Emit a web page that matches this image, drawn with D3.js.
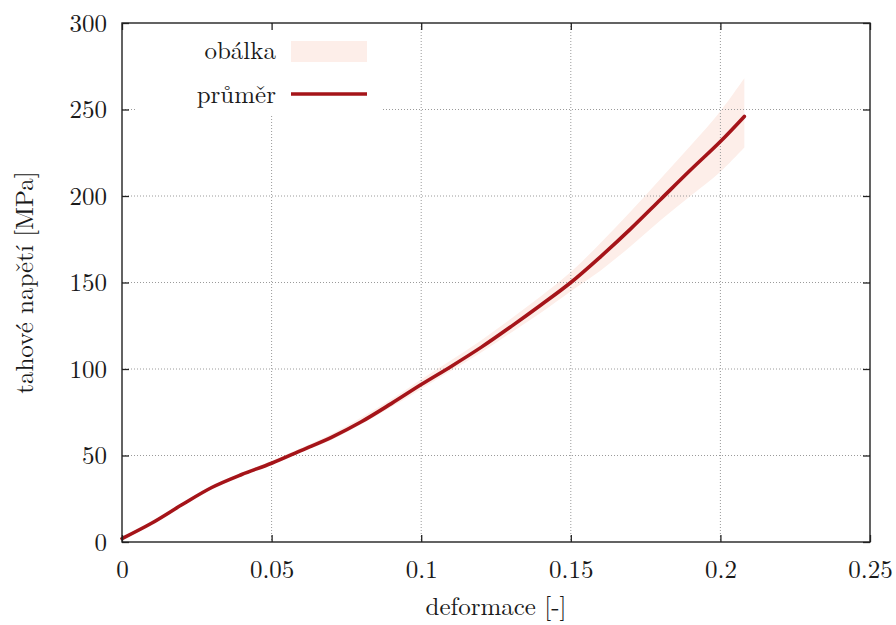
<!DOCTYPE html>
<html>
<head>
<meta charset="utf-8">
<script src="https://cdn.jsdelivr.net/npm/d3@7"></script>
<style>
  body { margin: 0; background: #fff; }
</style>
</head>
<body>
<svg id="chart" width="896" height="625"></svg>
<script>

// strain values (x) and stress values (MPa)
let strain = [0, 0.01, 0.02, 0.03, 0.04, 0.05, 0.06, 0.07, 0.08, 0.09, 0.10,
    0.11, 0.12, 0.13, 0.14, 0.15, 0.16, 0.17, 0.18, 0.19, 0.20, 0.208];
let meanStress = [2, 11, 21.5, 31.5, 39, 45.5, 53, 60.5, 69.5, 80, 91,
    101.5, 112.5, 124.5, 137, 150, 165, 181, 198, 215, 231.5, 246];
let lowStress = [2, 10.5, 21, 31, 38.5, 44.5, 52, 59, 68, 78, 88.5,
    99, 109.5, 121, 132.5, 145, 157, 171, 186, 200, 214, 228];
let highStress = [2.5, 11.5, 22, 32, 40, 47, 54.5, 62.5, 72, 82.5, 94,
    105, 116.5, 129, 142, 156, 173, 191, 210, 229, 249, 268];

let xTicks = [0, 0.05, 0.1, 0.15, 0.2, 0.25];
let yTicks = [0, 50, 100, 150, 200, 250, 300];
let legendLabels = ['obálka', 'průměr'];

let Plot = { Left: 122, Right: 870, Top: 23, Bottom: 542 };
let Colors = { Line: '#a51419', Band: '#fdeee9', Grid: '#9a9a9a', Text: '#1a1a1a' };
let Font = '"Latin Modern Roman", "Liberation Serif", serif';
let FontSize = 25;

let svg = d3.select('#chart');

let x = d3.scaleLinear().domain([0, 0.25]).range([Plot.Left, Plot.Right]);
let y = d3.scaleLinear().domain([0, 300]).range([Plot.Bottom, Plot.Top]);

let rows = strain.map((s, i) => ({
    s: s, mean: meanStress[i], lo: lowStress[i], hi: highStress[i]
}));

// envelope
let area = d3.area()
    .x(d => x(d.s))
    .y0(d => y(d.lo))
    .y1(d => y(d.hi))
    .curve(d3.curveCatmullRom);

svg.append('path')
    .datum(rows)
    .attr('d', area)
    .attr('fill', Colors.Band);

// grid
let grid = svg.append('g');
grid.selectAll('line.gx')
    .data(xTicks.slice(1, -1))
    .join('line')
    .attr('x1', d => x(d)).attr('x2', d => x(d))
    .attr('y1', Plot.Top).attr('y2', Plot.Bottom)
    .attr('stroke', Colors.Grid).attr('stroke-width', 1)
    .attr('stroke-dasharray', '1,2');
grid.selectAll('line.gy')
    .data(yTicks.slice(1, -1))
    .join('line')
    .attr('y1', d => y(d)).attr('y2', d => y(d))
    .attr('x1', Plot.Left).attr('x2', Plot.Right)
    .attr('stroke', Colors.Grid).attr('stroke-width', 1)
    .attr('stroke-dasharray', '1,2');

// white legend box over the grid
svg.append('rect')
    .attr('x', 137).attr('y', Plot.Top + 1)
    .attr('width', 245).attr('height', 92)
    .attr('fill', '#fff');

// mean curve
let line = d3.line()
    .x(d => x(d.s))
    .y(d => y(d.mean))
    .curve(d3.curveCatmullRom);

svg.append('path')
    .datum(rows)
    .attr('d', line)
    .attr('fill', 'none')
    .attr('stroke', Colors.Line)
    .attr('stroke-width', 3.6)
    .attr('stroke-linecap', 'round');

// axes (ticks inside, mirrored)
let tickLen = 7;
let axisG = svg.append('g');

axisG.append('g')
    .attr('transform', `translate(0,${Plot.Bottom})`)
    .call(d3.axisBottom(x).tickValues(xTicks).tickSize(-tickLen).tickPadding(18)
        .tickFormat(d => d === 0 ? '0' : String(d)));
axisG.append('g')
    .attr('transform', `translate(0,${Plot.Top})`)
    .call(d3.axisTop(x).tickValues(xTicks).tickSize(-tickLen).tickFormat(''));
axisG.append('g')
    .attr('transform', `translate(${Plot.Left},0)`)
    .call(d3.axisLeft(y).tickValues(yTicks).tickSize(-tickLen).tickPadding(15));
axisG.append('g')
    .attr('transform', `translate(${Plot.Right},0)`)
    .call(d3.axisRight(y).tickValues(yTicks).tickSize(-tickLen).tickFormat(''));

axisG.selectAll('.domain').remove();
axisG.selectAll('.tick line').attr('stroke', '#222').attr('stroke-width', 1.3);
axisG.selectAll('.tick text')
    .style('font-family', Font)
    .style('font-size', FontSize + 'px')
    .style('fill', Colors.Text);

svg.append('rect')
    .attr('x', Plot.Left).attr('y', Plot.Top)
    .attr('width', Plot.Right - Plot.Left).attr('height', Plot.Bottom - Plot.Top)
    .attr('fill', 'none').attr('stroke', '#222').attr('stroke-width', 1.4);

// axis labels
svg.append('text')
    .attr('x', (Plot.Left + Plot.Right) / 2)
    .attr('y', 615)
    .attr('text-anchor', 'middle')
    .style('font-family', Font).style('font-size', FontSize + 'px').style('fill', Colors.Text)
    .text('deformace [-]');

svg.append('text')
    .attr('transform', `translate(33,${(Plot.Top + Plot.Bottom) / 2}) rotate(-90)`)
    .attr('text-anchor', 'middle')
    .style('font-family', Font).style('font-size', FontSize + 'px').style('fill', Colors.Text)
    .text('tahové napětí [MPa]');

// legend
let legend = svg.append('g');
legend.selectAll('text')
    .data(legendLabels)
    .join('text')
    .attr('x', 276)
    .attr('y', (d, i) => 59 + i * 44)
    .attr('text-anchor', 'end')
    .style('font-family', Font).style('font-size', FontSize + 'px').style('fill', Colors.Text)
    .text(d => d);

legend.append('rect')
    .attr('x', 291).attr('y', 41)
    .attr('width', 76).attr('height', 21)
    .attr('fill', Colors.Band);

legend.append('line')
    .attr('x1', 291).attr('x2', 367)
    .attr('y1', 94).attr('y2', 94)
    .attr('stroke', Colors.Line)
    .attr('stroke-width', 3.6);

</script>
</body>
</html>
